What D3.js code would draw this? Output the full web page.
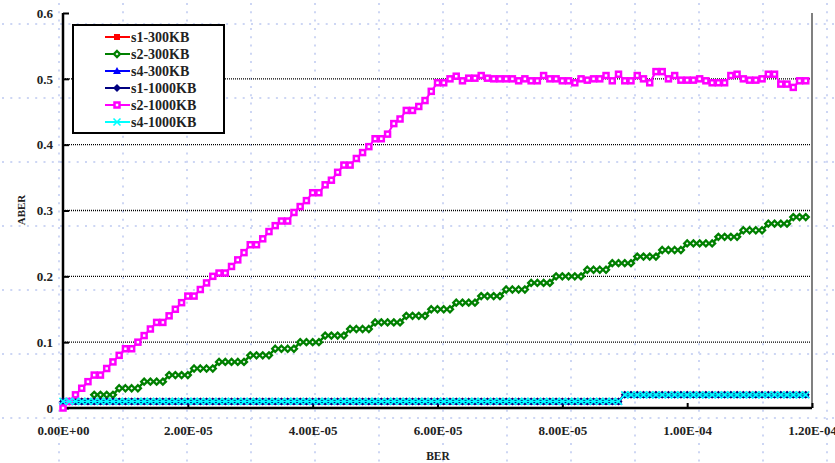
<!DOCTYPE html>
<html>
<head>
<meta charset="utf-8">
<style>
  body { margin: 0; background: #fff; }
  svg { display: block; }
  text { font-family: "Liberation Serif", "Times New Roman", serif; font-weight: bold; fill: #222; }
</style>
</head>
<body>
<svg id="chart" width="835" height="463"></svg>
<script src="https://d3js.org/d3.v7.min.js"></script>
<script>
// BER sample points, in units of 1E-6
var berSteps = [
  0, 1, 2, 3, 4, 5, 6, 7, 8, 9, 10, 11, 12, 13, 14, 15, 16, 17, 18, 19,
  20, 21, 22, 23, 24, 25, 26, 27, 28, 29, 30, 31, 32, 33, 34, 35, 36, 37, 38, 39,
  40, 41, 42, 43, 44, 45, 46, 47, 48, 49, 50, 51, 52, 53, 54, 55, 56, 57, 58, 59,
  60, 61, 62, 63, 64, 65, 66, 67, 68, 69, 70, 71, 72, 73, 74, 75, 76, 77, 78, 79,
  80, 81, 82, 83, 84, 85, 86, 87, 88, 89, 90, 91, 92, 93, 94, 95, 96, 97, 98, 99,
  100, 101, 102, 103, 104, 105, 106, 107, 108, 109, 110, 111, 112, 113, 114, 115, 116, 117, 118, 119
];

// the four flat series lie on top of each other at the bottom
var lowAber = [
  0.01, 0.01, 0.01, 0.01, 0.01, 0.01, 0.01, 0.01, 0.01, 0.01, 0.01, 0.01, 0.01, 0.01, 0.01, 0.01, 0.01, 0.01, 0.01, 0.01,
  0.01, 0.01, 0.01, 0.01, 0.01, 0.01, 0.01, 0.01, 0.01, 0.01, 0.01, 0.01, 0.01, 0.01, 0.01, 0.01, 0.01, 0.01, 0.01, 0.01,
  0.01, 0.01, 0.01, 0.01, 0.01, 0.01, 0.01, 0.01, 0.01, 0.01, 0.01, 0.01, 0.01, 0.01, 0.01, 0.01, 0.01, 0.01, 0.01, 0.01,
  0.01, 0.01, 0.01, 0.01, 0.01, 0.01, 0.01, 0.01, 0.01, 0.01, 0.01, 0.01, 0.01, 0.01, 0.01, 0.01, 0.01, 0.01, 0.01, 0.01,
  0.01, 0.01, 0.01, 0.01, 0.01, 0.01, 0.01, 0.01, 0.01, 0.01, 0.02, 0.02, 0.02, 0.02, 0.02, 0.02, 0.02, 0.02, 0.02, 0.02,
  0.02, 0.02, 0.02, 0.02, 0.02, 0.02, 0.02, 0.02, 0.02, 0.02, 0.02, 0.02, 0.02, 0.02, 0.02, 0.02, 0.02, 0.02, 0.02, 0.02
];
var s1_300 = lowAber, s4_300 = lowAber, s1_1000 = lowAber, s4_1000 = lowAber;

var s2_300 = [
  null, null, null, null, null, 0.02, 0.02, 0.02, 0.02, 0.03, 0.03, 0.03, 0.03, 0.04, 0.04, 0.04, 0.04, 0.05, 0.05, 0.05,
  0.05, 0.06, 0.06, 0.06, 0.06, 0.07, 0.07, 0.07, 0.07, 0.07, 0.08, 0.08, 0.08, 0.08, 0.09, 0.09, 0.09, 0.09, 0.10, 0.10,
  0.10, 0.10, 0.11, 0.11, 0.11, 0.11, 0.12, 0.12, 0.12, 0.12, 0.13, 0.13, 0.13, 0.13, 0.13, 0.14, 0.14, 0.14, 0.14, 0.15,
  0.15, 0.15, 0.15, 0.16, 0.16, 0.16, 0.16, 0.17, 0.17, 0.17, 0.17, 0.18, 0.18, 0.18, 0.18, 0.19, 0.19, 0.19, 0.19, 0.20,
  0.20, 0.20, 0.20, 0.20, 0.21, 0.21, 0.21, 0.21, 0.22, 0.22, 0.22, 0.22, 0.23, 0.23, 0.23, 0.23, 0.24, 0.24, 0.24, 0.24,
  0.25, 0.25, 0.25, 0.25, 0.25, 0.26, 0.26, 0.26, 0.26, 0.27, 0.27, 0.27, 0.27, 0.28, 0.28, 0.28, 0.28, 0.29, 0.29, 0.29
];

var s2_1000 = [
  0.00, 0.01, 0.02, 0.03, 0.04, 0.05, 0.05, 0.06, 0.07, 0.08, 0.09, 0.09, 0.10, 0.11, 0.12, 0.13, 0.13, 0.14, 0.15, 0.16,
  0.17, 0.17, 0.18, 0.19, 0.20, 0.205, 0.205, 0.215, 0.225, 0.236, 0.248, 0.248, 0.257, 0.268, 0.277, 0.284, 0.284, 0.297, 0.306, 0.315,
  0.327, 0.327, 0.339, 0.346, 0.358, 0.369, 0.369, 0.379, 0.388, 0.397, 0.409, 0.409, 0.416, 0.432, 0.439, 0.452, 0.452, 0.458, 0.467, 0.481,
  0.494, 0.494, 0.500, 0.504, 0.497, 0.501, 0.501, 0.505, 0.501, 0.500, 0.500, 0.500, 0.500, 0.497, 0.500, 0.497, 0.497, 0.505, 0.500, 0.500,
  0.497, 0.497, 0.494, 0.500, 0.498, 0.500, 0.500, 0.505, 0.497, 0.507, 0.497, 0.497, 0.505, 0.500, 0.494, 0.511, 0.511, 0.500, 0.505, 0.498,
  0.498, 0.498, 0.500, 0.497, 0.494, 0.494, 0.494, 0.505, 0.507, 0.500, 0.498, 0.498, 0.500, 0.507, 0.507, 0.492, 0.492, 0.487, 0.497, 0.497
];

var seriesNames = ["s1-300KB", "s2-300KB", "s4-300KB", "s1-1000KB", "s2-1000KB", "s4-1000KB"];
var seriesValues = [s1_300, s2_300, s4_300, s1_1000, s2_1000, s4_1000];
var seriesColors = ["#ff0000", "#008000", "#0000ff", "#000080", "#ff00ff", "#00ffff"];
var seriesMarkers = ["square", "diamondOpen", "triangle", "diamond", "squareOpen", "cross"];
var seriesWidths = [2, 2.4, 2, 2, 2, 1.2];

var yTicks = [0, 0.1, 0.2, 0.3, 0.4, 0.5, 0.6];
var xTicks = [0, 2e-5, 4e-5, 6e-5, 8e-5, 1e-4, 1.2e-4];

(function() {
var svg = d3.select("#chart");
var plotLeft = 63, plotRight = 812, plotTop = 13, plotBottom = 408;

var x = d3.scaleLinear().domain([0, 1.2e-4]).range([plotLeft, plotRight]);
var y = d3.scaleLinear().domain([0, 0.6]).range([plotBottom, plotTop]);

// faint page grid behind everything
var pageGrid = svg.append("g").attr("stroke", "#cdd6f4").attr("stroke-width", 2).attr("stroke-dasharray", "2,6.3");
[24, 98, 162, 226, 290, 354, 418].forEach(function(py) {
  pageGrid.append("line").attr("x1", 2).attr("x2", 835).attr("y1", py).attr("y2", py);
});
for (var gx = 59; gx < 835; gx += 64) {
  pageGrid.append("line").attr("x1", gx).attr("x2", gx).attr("y1", 3).attr("y2", 463);
}

// dotted horizontal gridlines
svg.append("g").selectAll("line")
  .data(yTicks.filter(function(d) { return d > 0 && d < 0.6; }))
  .join("line")
  .attr("x1", plotLeft).attr("x2", plotRight)
  .attr("y1", function(d) { return y(d); }).attr("y2", function(d) { return y(d); })
  .attr("stroke", "#000").attr("stroke-width", 1.4).attr("stroke-dasharray", "1,1");

// right border
svg.append("line").attr("x1", plotRight).attr("x2", plotRight).attr("y1", plotTop).attr("y2", plotBottom)
  .attr("stroke", "#808080").attr("stroke-width", 2);

function sci(v) {
  if (v === 0) return "0.00E+00";
  var e = Math.floor(Math.log10(v) + 1e-9);
  var m = v / Math.pow(10, e);
  return m.toFixed(2) + "E" + (e < 0 ? "-" : "+") + String(Math.abs(e)).padStart(2, "0");
}

var yAxis = svg.append("g").attr("transform", "translate(" + plotLeft + ",0)")
  .call(d3.axisLeft(y).tickValues(yTicks).tickSize(-6).tickPadding(10).tickFormat(d3.format("")));
var xAxis = svg.append("g").attr("transform", "translate(0," + plotBottom + ")")
  .call(d3.axisBottom(x).tickValues(xTicks).tickSize(-5).tickPadding(18).tickFormat(sci));
[yAxis, xAxis].forEach(function(a) {
  a.select(".domain").attr("stroke", "#000").attr("stroke-width", 2.5);
  a.selectAll(".tick line").attr("stroke", "#000").attr("stroke-width", 2);
  a.selectAll(".tick text").attr("font-family", "Liberation Serif").attr("font-weight", "bold")
    .attr("font-size", 13).attr("fill", "#222");
});
yAxis.select(".domain").attr("d", "M0," + plotTop + "V" + plotBottom);
xAxis.select(".domain").attr("d", "M" + plotLeft + ",0H" + plotRight);

svg.append("text").attr("x", 438).attr("y", 460).attr("text-anchor", "middle")
  .attr("font-size", 11.5).text("BER");
svg.append("text").attr("transform", "translate(25,210) rotate(-90)").attr("text-anchor", "middle")
  .attr("font-size", 11).text("ABER");

function drawMarker(g, type, cx, cy, color) {
  if (type === "square") {
    g.append("rect").attr("x", cx - 3).attr("y", cy - 3).attr("width", 6).attr("height", 6).attr("fill", color);
  } else if (type === "squareOpen") {
    g.append("rect").attr("x", cx - 2.5).attr("y", cy - 2.5).attr("width", 5).attr("height", 5)
      .attr("fill", "#fff").attr("stroke", color).attr("stroke-width", 2.5);
  } else if (type === "triangle") {
    g.append("path").attr("d", "M" + cx + "," + (cy - 4) + "L" + (cx + 4) + "," + (cy + 3) + "L" + (cx - 4) + "," + (cy + 3) + "Z")
      .attr("fill", color);
  } else if (type === "diamond") {
    g.append("path").attr("d", "M" + cx + "," + (cy - 4) + "L" + (cx + 4) + "," + cy + "L" + cx + "," + (cy + 4) + "L" + (cx - 4) + "," + cy + "Z")
      .attr("fill", color);
  } else if (type === "diamondOpen") {
    g.append("path").attr("d", "M" + cx + "," + (cy - 3) + "L" + (cx + 3) + "," + cy + "L" + cx + "," + (cy + 3) + "L" + (cx - 3) + "," + cy + "Z")
      .attr("fill", "#fff").attr("stroke", color).attr("stroke-width", 2.3);
  } else if (type === "cross") {
    g.append("path").attr("d", "M" + (cx - 3.5) + "," + (cy - 3.5) + "L" + (cx + 3.5) + "," + (cy + 3.5) +
      "M" + (cx + 3.5) + "," + (cy - 3.5) + "L" + (cx - 3.5) + "," + (cy + 3.5))
      .attr("stroke", color).attr("stroke-width", 1.6).attr("fill", "none");
  }
}

var line = d3.line()
  .defined(function(d) { return d.v != null; })
  .x(function(d) { return x(d.b * 1e-6); })
  .y(function(d) { return y(d.v); });

seriesValues.forEach(function(vals, i) {
  var pts = berSteps.map(function(b, k) { return { b: b, v: vals[k] }; });
  var g = svg.append("g");
  g.append("path").attr("d", line(pts)).attr("fill", "none")
    .attr("stroke", seriesColors[i]).attr("stroke-width", seriesWidths[i]);
  pts.filter(function(d) { return d.v != null; }).forEach(function(d) {
    drawMarker(g, seriesMarkers[i], x(d.b * 1e-6), y(d.v), seriesColors[i]);
  });
});

// legend
var lg = svg.append("g");
lg.append("rect").attr("x", 73).attr("y", 25).attr("width", 151).attr("height", 108)
  .attr("fill", "#fff").attr("stroke", "#000").attr("stroke-width", 2);
seriesNames.forEach(function(name, i) {
  var ry = 37 + i * 17;
  lg.append("line").attr("x1", 105).attr("x2", 130).attr("y1", ry).attr("y2", ry)
    .attr("stroke", seriesColors[i]).attr("stroke-width", 2);
  drawMarker(lg, seriesMarkers[i], 117, ry, seriesColors[i]);
  lg.append("text").attr("x", 131).attr("y", ry + 5).attr("font-size", 14).text(name);
});
})();
</script>
</body>
</html>
